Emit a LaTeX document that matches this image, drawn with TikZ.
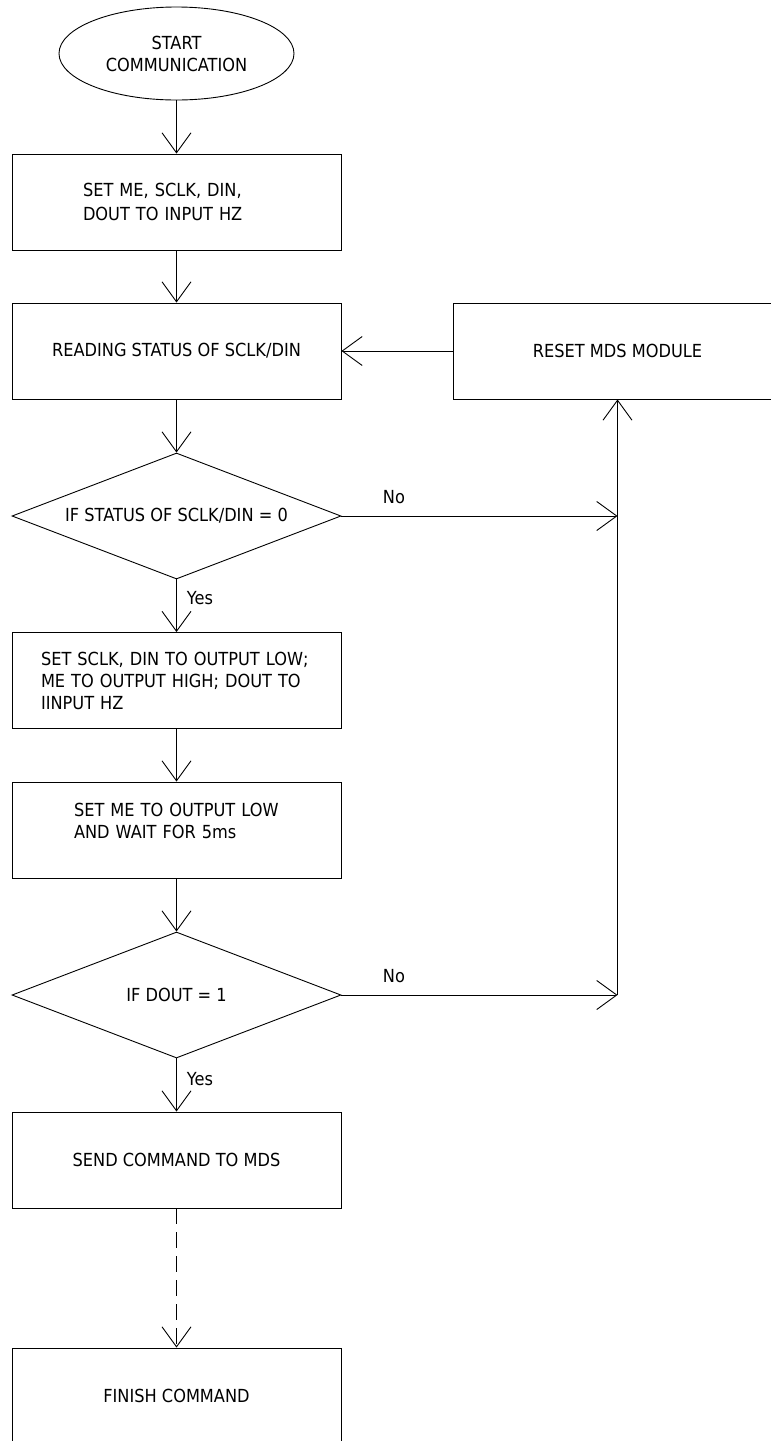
\documentclass[tikz,border=0pt]{standalone}
\usepackage{fontspec}
\setmainfont{DejaVu Sans}[FakeStretch=0.9]
\usetikzlibrary{shapes.geometric,arrows.meta}

\begin{document}
\begin{tikzpicture}[x=1pt,y=-1pt,
        every node/.style={font=\fontsize{18}{22}\selectfont},
        box/.style={draw,line width=0.9pt,minimum width=329pt,minimum height=96pt,inner sep=0pt},
        test/.style={draw,diamond,aspect=2.6,line width=0.9pt,minimum width=329pt,minimum height=126pt,inner sep=0pt},
        flow/.style={line width=0.9pt,-{Straight Barb[length=20pt,width=29pt]}},
        tag/.style={inner sep=1pt}]
        \useasboundingbox (0,0) rectangle (771,1441);
        \clip (0,0) rectangle (771,1441);

        \node[draw,ellipse,line width=0.9pt,minimum width=235pt,minimum height=93pt,inner sep=0pt,align=center] (start) at (176.5,53.5) {START\\COMMUNICATION};
        \node[box,text width=187pt,align=left] (init) at (176.5,202) {SET ME, SCLK, DIN,\\[2pt]DOUT TO INPUT HZ};
        \node[box] (read) at (176.5,351) {READING STATUS OF SCLK/DIN};
        \node[box] (reset) at (617.5,351) {RESET MDS MODULE};
        \node[test] (chk1) at (176.5,516) {IF STATUS OF SCLK/DIN = 0};
        \node[box,text width=271pt,align=left] (prep) at (176.5,680.5) {SET SCLK, DIN TO OUTPUT LOW;\\ME TO OUTPUT HIGH; DOUT TO\\IINPUT HZ};
        \node[box,text width=205pt,align=left] (wait) at (176.5,830) {SET ME TO OUTPUT LOW\\AND WAIT FOR 5ms\\[-4pt]\mbox{}};
        \node[test] (chk2) at (176.5,995) {IF DOUT = 1};
        \node[box] (send) at (176.5,1160) {SEND COMMAND TO MDS};
        \node[box] (finish) at (176.5,1396) {FINISH COMMAND};

        \coordinate (j1) at (617.5,516);
        \coordinate (j2) at (617.5,995);

        \draw[flow] (start) -- (init);
        \draw[flow] (init) -- (read);
        \draw[flow] (read) -- (chk1);
        \draw[flow] (chk1) -- node[tag,pos=0.36,right=9pt] {Yes} (prep);
        \draw[flow] (prep) -- (wait);
        \draw[flow] (wait) -- (chk2);
        \draw[flow] (chk2) -- node[tag,pos=0.39,right=9pt] {Yes} (send);
        \draw[flow,dash pattern=on 16pt off 8pt] (send) -- (finish);
        \draw[flow] (chk1) -- node[tag,pos=0.19,above=11pt] {No} (j1);
        \draw[flow] (chk2) -- node[tag,pos=0.19,above=11pt] {No} (j2);
        \draw[flow] (j2) -- (reset);
        \draw[flow] (reset) -- (read);
    \end{tikzpicture}
\end{document}
